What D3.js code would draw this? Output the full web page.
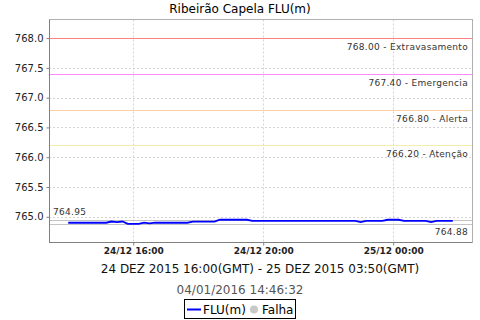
<!DOCTYPE html>
<html><head><meta charset="utf-8">
<script src="https://cdn.jsdelivr.net/npm/d3@7"></script>
<style>
body{margin:0;background:#fff;}
svg{display:block;font-family:"DejaVu Sans",sans-serif;}
</style></head>
<body><svg id="c" width="480" height="320"></svg>
<script>
// ---- data ----
const title = "Ribeirão Capela FLU(m)";
const subtitle = "24 DEZ 2015 16:00(GMT) - 25 DEZ 2015 03:50(GMT)";
const stamp = "04/01/2016 14:46:32";
const startTime = "2015-12-24T14:00";   // local axis time of first reading
const stepMinutes = 10;
const levels = [
  764.90,764.90,764.90,764.90,764.90,764.90,764.90,764.90,764.92,764.91,
  764.92,764.88,764.88,764.88,764.90,764.89,764.90,764.90,764.90,764.90,
  764.90,764.90,764.90,764.92,764.92,764.92,764.92,764.92,764.95,764.95,
  764.95,764.95,764.95,764.95,764.93,764.93,764.93,764.93,764.93,764.93,
  764.93,764.93,764.93,764.93,764.93,764.93,764.93,764.93,764.93,764.93,
  764.93,764.93,764.93,764.93,764.91,764.93,764.93,764.93,764.93,764.95,
  764.95,764.95,764.93,764.93,764.93,764.93,764.93,764.91,764.93,764.93,
  764.93,764.93
];
const thresholdValues = [768.00, 767.40, 766.80, 766.20];
const thresholdNames = ["Extravasamento", "Emergencia", "Alerta", "Atenção"];
const thresholdColors = ["#ff8080", "#ff88ff", "#fad0a4", "#f6eea8"];
const yTicks = [765.0, 765.5, 766.0, 766.5, 767.0, 767.5, 768.0];
const xTickTimes = ["2015-12-24T16:00", "2015-12-24T20:00", "2015-12-25T00:00"];
const legendNames = ["FLU(m)", "Falha"];

// ---- build ----
const parse = d3.utcParse("%Y-%m-%dT%H:%M");
const t0 = parse(startTime);
const data = levels.map((v, i) => ({t: new Date(t0.getTime() + i * stepMinutes * 60000), v}));
const minV = d3.min(levels), maxV = d3.max(levels);

const svg = d3.select("#c");
const L = 49, R = 472, T = 19.5, B = 242.5;

const tExt = d3.extent(data, d => d.t);
const tPad = (tExt[1] - tExt[0]) * 0.05;
const x = d3.scaleUtc().domain([new Date(+tExt[0] - tPad), new Date(+tExt[1] + tPad)]).range([L, R]);
const yLo = Math.min(minV, d3.min(thresholdValues)), yHi = Math.max(maxV, d3.max(thresholdValues));
const yPad = (yHi - yLo) * 0.1;
const y = d3.scaleLinear().domain([yLo - yPad, yHi + yPad]).range([B, T]);

// title
svg.append("text").attr("x", 240).attr("y", 13).attr("text-anchor", "middle")
  .style("font-size", "12px").attr("fill", "#000").text(title);

// grid
const g = svg.append("g");
g.selectAll(".gy").data(yTicks).join("line")
  .attr("x1", L).attr("x2", R).attr("y1", d => Math.round(y(d)) + 0.5).attr("y2", d => Math.round(y(d)) + 0.5)
  .attr("stroke", "#d4d4d4").attr("stroke-dasharray", "2,2");
const xt = xTickTimes.map(parse);
g.selectAll(".gx").data(xt).join("line")
  .attr("y1", T).attr("y2", B).attr("x1", d => Math.round(x(d)) + 0.5).attr("x2", d => Math.round(x(d)) + 0.5)
  .attr("stroke", "#d4d4d4").attr("stroke-dasharray", "2,2");

// plot border
svg.append("rect").attr("x", L + 0.5).attr("y", T).attr("width", R - L).attr("height", B - T)
  .attr("fill", "none").attr("stroke", "#b0b0b0");

// thresholds
thresholdValues.forEach((v, i) => {
  const yy = Math.round(y(v)) + 0.5;
  svg.append("line").attr("x1", L).attr("x2", R).attr("y1", yy).attr("y2", yy)
    .attr("stroke", thresholdColors[i]).attr("stroke-width", 1);
  svg.append("text").attr("x", 468).attr("y", yy + 11.5).attr("text-anchor", "end")
    .style("font-size", "9px").style("letter-spacing", "0.3px").attr("fill", "#333")
    .text(v.toFixed(2) + " - " + thresholdNames[i]);
});

// min / max lines
[maxV, minV].forEach(v => {
  const yy = Math.round(y(v)) + 0.5;
  svg.append("line").attr("x1", L).attr("x2", R).attr("y1", yy).attr("y2", yy)
    .attr("stroke", "#c4c4c4");
});
svg.append("text").attr("x", 53).attr("y", y(maxV) - 5).style("font-size", "9px")
  .style("letter-spacing", "0.3px").attr("fill", "#333").text(maxV.toFixed(2));
svg.append("text").attr("x", 468).attr("y", y(minV) + 11.5).attr("text-anchor", "end").style("font-size", "9px")
  .style("letter-spacing", "0.3px").attr("fill", "#333").text(minV.toFixed(2));

// series
svg.append("path").datum(data)
  .attr("d", d3.line().x(d => x(d.t)).y(d => y(d.v)))
  .attr("fill", "none").attr("stroke", "#0000ff").attr("stroke-width", 1.8);

// axes
const ya = svg.append("g").attr("transform", `translate(${L + 0.5},0)`)
  .call(d3.axisLeft(y).tickValues(yTicks).tickFormat(d3.format(".1f")).tickSize(3).tickPadding(3));
ya.select(".domain").attr("stroke", "#808080").attr("d", `M0,${T}V${B}`);
ya.selectAll(".tick line").attr("stroke", "#808080");
ya.selectAll("text").style("font-size", "10px").style("font-family", "DejaVu Sans").attr("fill", "#222");

const xa = svg.append("g").attr("transform", `translate(0,${B})`)
  .call(d3.axisBottom(x).tickValues(xt).tickFormat(d3.utcFormat("%d/%m %H:%M")).tickSize(3).tickPadding(2));
xa.select(".domain").attr("stroke", "#808080").attr("d", `M${L},0H${R}`);
xa.selectAll(".tick line").attr("stroke", "#808080");
xa.selectAll("text").style("font-size", "9px").style("font-weight", "bold").style("font-family", "DejaVu Sans").attr("fill", "#222");

// subtitle + stamp
svg.append("text").attr("x", 260).attr("y", 273).attr("text-anchor", "middle")
  .style("font-size", "12px").attr("fill", "#111").text(subtitle);
svg.append("text").attr("x", 240).attr("y", 294).attr("text-anchor", "middle")
  .style("font-size", "12px").attr("fill", "#555").text(stamp);

// legend
const lg = svg.append("g");
lg.append("rect").attr("x", 184.5).attr("y", 299.5).attr("width", 111).attr("height", 19)
  .attr("fill", "#fff").attr("stroke", "#000");
lg.append("line").attr("x1", 187).attr("x2", 201).attr("y1", 309.5).attr("y2", 309.5)
  .attr("stroke", "#0000ff").attr("stroke-width", 2);
lg.append("text").attr("x", 203).attr("y", 314).style("font-size", "12px").attr("fill", "#000").text(legendNames[0]);
lg.append("circle").attr("cx", 254).attr("cy", 309.5).attr("r", 4).attr("fill", "#c8c8c8");
lg.append("text").attr("x", 262).attr("y", 314).style("font-size", "12px").attr("fill", "#000").text(legendNames[1]);
</script></body></html>
